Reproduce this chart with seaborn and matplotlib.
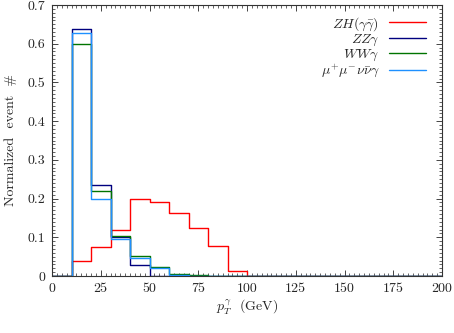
import numpy as np
import pandas as pd
import matplotlib
matplotlib.use("Agg")
import matplotlib.pyplot as plt
import seaborn as sns
from matplotlib.ticker import MultipleLocator

# bin edges (GeV)
bin_edges = list(range(0, 210, 10))
# values per 10 GeV bin, 0-200
zh = [0, 0.040, 0.075, 0.120, 0.198, 0.191, 0.162, 0.125, 0.077, 0.012] + [0] * 10
zz = [0, 0.637, 0.235, 0.100, 0.028, 0, 0, 0, 0, 0] + [0] * 10
ww = [0, 0.598, 0.220, 0.104, 0.052, 0.022, 0.005, 0.002, 0, 0] + [0] * 10
mumu = [0, 0.628, 0.200, 0.095, 0.046, 0.020, 0.003, 0.001, 0, 0] + [0] * 10

labels = [r'$ZH(\gamma\bar{\gamma})$', r'$ZZ\gamma$', r'$WW\gamma$',
          r'$\mu^{+}\mu^{-}\nu\bar{\nu}\gamma$']
colors = ['#ff0000', '#00007f', '#007400', '#1e90ff']

sns.set_style("ticks")
plt.rcParams['font.family'] = ['cmr10', 'DejaVu Serif']
plt.rcParams['mathtext.fontset'] = 'cm'
plt.rcParams['axes.unicode_minus'] = False
plt.rcParams['axes.formatter.use_mathtext'] = True

fig = plt.figure(figsize=(4.54, 3.33), dpi=100)
ax = fig.add_axes([52 / 454, 1 - 276 / 333, 390 / 454, 271 / 333])

centers = [(bin_edges[i] + bin_edges[i + 1]) / 2 for i in range(len(bin_edges) - 1)]
for vals, lab, col in zip([zh, zz, ww, mumu], labels, colors):
    df = pd.DataFrame({'pt': centers, 'w': vals})
    sns.histplot(data=df, x='pt', weights='w', bins=bin_edges, element='step',
                 fill=False, color=col, linewidth=1.0, ax=ax, label=lab)

ax.set_xlim(0, 200)
ax.set_ylim(0, 0.7)
ax.xaxis.set_major_locator(MultipleLocator(25))
ax.xaxis.set_minor_locator(MultipleLocator(2.5))
ax.yaxis.set_major_locator(MultipleLocator(0.1))
ax.yaxis.set_minor_locator(MultipleLocator(0.01))
ax.tick_params(which='both', direction='in', top=True, right=True, labelsize=10)
ax.tick_params(which='major', length=4, width=0.6, pad=5)
ax.tick_params(which='minor', length=2, width=0.5)
ax.yaxis.set_major_formatter(matplotlib.ticker.FuncFormatter(
    lambda v, p: '0' if abs(v) < 1e-9 else f'{v:.1f}'))
ax.xaxis.set_major_formatter(matplotlib.ticker.FuncFormatter(
    lambda v, p: f'{int(round(v))}'))
for s in ax.spines.values():
    s.set_linewidth(0.8)
    s.set_color('#333333')

ax.set_xlabel(r'$p_T^{\gamma}$  (GeV)', fontsize=10, labelpad=2)
ax.set_ylabel('Normalized  event  #', fontsize=10, labelpad=7)

ax.legend(loc='upper right', frameon=False, markerfirst=False, fontsize=10,
          handlelength=2.7, labelspacing=0.0, borderaxespad=0.3,
          handletextpad=0.7, bbox_to_anchor=(0.985, 1.0))

fig.savefig('out.png', dpi=100)
